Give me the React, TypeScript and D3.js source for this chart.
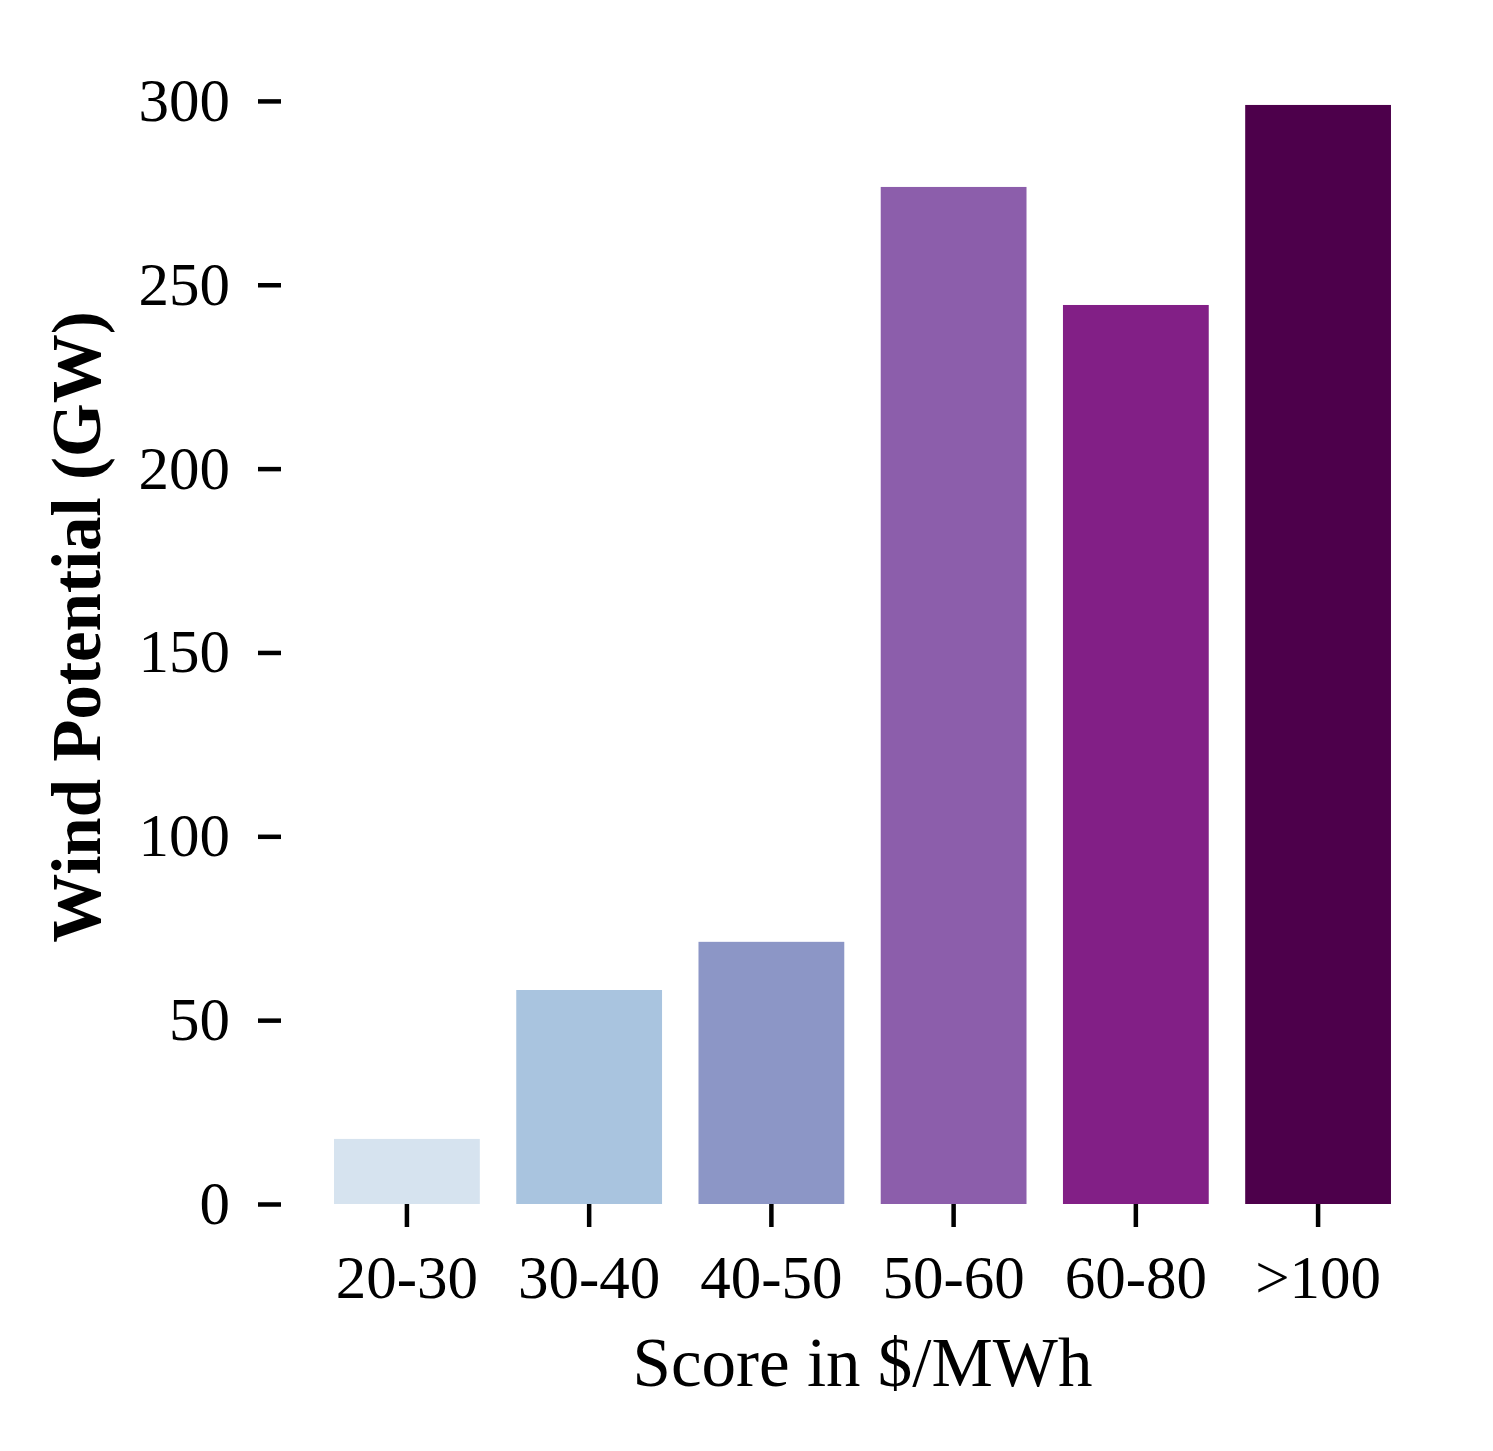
import React, { useRef, useEffect } from 'react';
import * as d3 from 'd3';

const categories = ['20-30', '30-40', '40-50', '50-60', '60-80', '>100'];
const potentialGW = [17.7, 58.2, 71.3, 276.6, 244.5, 298.9];
const barColors = ['#d6e3ef', '#a9c4df', '#8c96c6', '#8c5eab', '#821f86', '#4d004b'];
const yTicks = [0, 50, 100, 150, 200, 250, 300];

const WIDTH = 1493;
const HEIGHT = 1451;
const FONT = '"Liberation Serif", "Times New Roman", serif';

const App: React.FC = () => {
  const svgRef = useRef<SVGSVGElement | null>(null);

  useEffect(() => {
    if (!svgRef.current) return;
    const svg = d3.select(svgRef.current);
    svg.selectAll('*').remove();

    // axes box (matplotlib-like, with the spines hidden)
    const left = 315.8;
    const right = 1409.2;
    const top = 50;
    const bottom = 1204;

    const data = categories.map((c, i) => ({ label: c, value: potentialGW[i], color: barColors[i] }));

    const xScale = d3.scaleBand()
      .domain(categories)
      .range([left, right])
      .paddingInner(0.2)
      .paddingOuter(0.1);

    const yMax = (d3.max(potentialGW) || 0) * 1.05;
    const yScale = d3.scaleLinear()
      .domain([0, yMax])
      .range([bottom, top]);

    svg.append('g')
      .selectAll('rect')
      .data(data)
      .enter()
      .append('rect')
      .attr('x', d => xScale(d.label)!)
      .attr('y', d => yScale(d.value))
      .attr('width', xScale.bandwidth())
      .attr('height', d => yScale(0) - yScale(d.value))
      .attr('fill', d => d.color);

    const xAxisG = svg.append('g')
      .attr('transform', `translate(0, ${bottom})`)
      .call(d3.axisBottom(xScale).tickSize(23).tickPadding(28));

    const yAxisG = svg.append('g')
      .attr('transform', `translate(281, 0)`)
      .call(d3.axisLeft(yScale).tickValues(yTicks).tickSize(23).tickPadding(28));

    [xAxisG, yAxisG].forEach(a => {
      a.select('.domain').remove();
      a.selectAll('.tick line')
        .attr('stroke', '#000')
        .attr('stroke-width', 4.5);
      a.selectAll('.tick text')
        .attr('fill', '#000')
        .style('font-family', FONT)
        .style('font-size', '61px');
    });

    svg.append('text')
      .attr('x', (left + right) / 2)
      .attr('y', 1386)
      .attr('text-anchor', 'middle')
      .style('font-family', FONT)
      .style('font-size', '69px')
      .attr('fill', '#000')
      .text('Score in $/MWh');

    svg.append('text')
      .attr('transform', `translate(100, ${(top + bottom) / 2}) rotate(-90)`)
      .attr('text-anchor', 'middle')
      .style('font-family', FONT)
      .style('font-size', '69px')
      .style('font-weight', 'bold')
      .attr('fill', '#000')
      .text('Wind Potential (GW)');
  }, []);

  return (
    <svg
      ref={svgRef}
      width={WIDTH}
      height={HEIGHT}
      style={{ position: 'absolute', left: 0, top: 0, background: '#fff' }}
    ></svg>
  );
};

export default App;
